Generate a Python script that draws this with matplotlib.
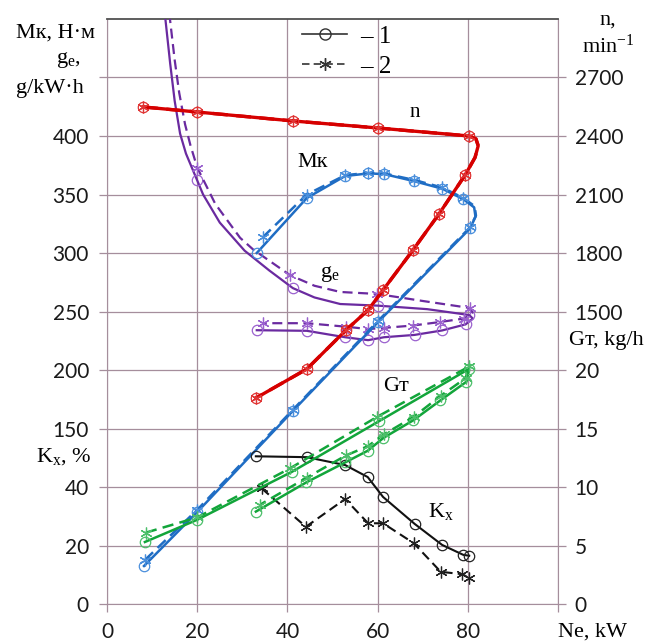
import matplotlib.pyplot as plt
from matplotlib.lines import Line2D

plt.rcParams['mathtext.fontset'] = 'custom'
plt.rcParams['mathtext.rm'] = 'Liberation Serif'
plt.rcParams['mathtext.it'] = 'Liberation Serif:italic'

# engine speed n, min^-1  (1 - solid, 2 - dashed)
n1_ne = [8.0, 20.0, 41.3, 60.1, 80.3, 81.8, 82.3, 81.6, 79.4, 73.6, 67.8, 61.2, 57.9, 53.0, 44.3, 33.0]
n1 = [2549, 2523, 2477, 2441, 2400, 2385, 2350, 2290, 2200, 2000, 1814, 1610, 1508, 1405, 1205, 1056]
n2_ne = n1_ne
n2 = n1
n_marks = [0, 1, 2, 3, 4, 8, 9, 10, 11, 12, 13, 14, 15]

# torque Mk, N*m
mk1_ne = [8.2, 20.0, 41.2, 60.1, 80.5, 81.7, 81.4, 79.0, 74.3, 68.0, 61.4, 57.9, 52.8, 44.3, 33.2]
mk1 = [32.5, 78.6, 165, 241, 321, 331, 339, 346, 355, 361.5, 367.5, 368, 365.8, 347, 300]
mk2_ne = [8.4, 20.0, 41.2, 60.1, 80.5, 81.8, 81.5, 79.0, 74.3, 68.0, 61.4, 57.9, 52.8, 44.3, 34.6]
mk2 = [37.6, 80.5, 166, 242, 322, 332, 340, 347, 356, 362.5, 368, 368.5, 366.5, 350, 313.7]
mk_marks = [0, 1, 2, 3, 4, 7, 8, 9, 10, 11, 12, 13, 14]

# specific fuel consumption ge, g/kW*h
ge1_ne = [12.8, 14.0, 15.0, 16.2, 17.5, 20.0, 21.3, 25.0, 30.5, 36.0, 41.2, 46.0, 51.7, 60.1, 71.0,
          80.3, 81.1, 79.5, 74.3, 68.2, 61.4, 57.9, 52.8, 44.3, 33.2]
ge1 = [505, 462, 430, 402, 385, 362, 350, 326, 302, 285, 270, 262, 256.4, 255, 252,
       247, 244, 239, 233.8, 230, 228, 225.5, 228, 233.5, 234]
ge1_marks = [5, 10, 13, 15, 17, 18, 19, 20, 21, 22, 23, 24]
ge2_ne = [13.8, 15.0, 16.0, 17.3, 18.5, 20.0, 24.0, 29.5, 32.4, 40.6, 46.0, 51.7, 59.9, 70.0,
          80.5, 81.0, 79.2, 73.8, 67.8, 61.4, 57.9, 53.0, 44.3, 34.6]
ge2 = [505, 465, 437, 410, 392, 373, 342, 313, 303, 281, 272, 266.7, 265, 259,
       253, 249, 244, 241, 238, 236, 235, 237, 240, 240]
ge2_marks = [5, 9, 12, 14, 16, 17, 18, 19, 20, 21, 22, 23]

# hourly fuel consumption Gт, kg/h
g1_ne = [8.4, 20.0, 41.0, 60.2, 80.3, 79.7, 73.9, 67.9, 61.3, 57.8, 52.8, 44.2, 33.0]
g1 = [5.3, 7.2, 11.3, 15.6, 20.1, 19.0, 17.4, 15.7, 14.2, 13.1, 12.1, 10.4, 7.9]
g2_ne = [8.6, 20.0, 40.6, 59.9, 80.3, 79.5, 74.0, 68.0, 61.4, 57.9, 53.0, 44.3, 34.0]
g2 = [6.1, 7.4, 11.6, 16.0, 20.3, 19.3, 17.8, 16.0, 14.5, 13.5, 12.7, 10.8, 8.5]

# Kx, %
kx1_ne = [33.0, 44.3, 52.8, 57.8, 61.2, 68.2, 74.3, 79.0, 80.3]
kx1 = [50.5, 50.2, 47.5, 43.4, 36.6, 27.4, 20.2, 16.8, 16.5]
kx2_ne = [34.3, 44.1, 52.8, 57.9, 61.2, 68.0, 74.0, 78.8, 80.3]
kx2 = [39.5, 26.4, 35.9, 27.6, 27.6, 20.8, 11.0, 10.2, 8.8]

left_ticks = ['0', '20', '40', '150', '200', '250', '300', '350', '400', '']
right_ticks = ['0', '5', '10', '15', '20', '1500', '1800', '2100', '2400', '2700']
x_ticks = ['0', '20', '40', '60', '80', '']

GRID = '#a58e9c'
SERIF = 'Liberation Serif'
STAR = (6, 2, 0)
DASH = (0, (4.5, 2.5))

fig = plt.figure(figsize=(6.51, 6.44), dpi=100)
ax = fig.add_axes([0.1644, 0.0621, 0.6928, 0.9084])
ax.set_xlim(0, 100)
ax.set_ylim(0, 500)
ax_k = ax.twinx()
ax_k.set_ylim(0, 200)
ax_g = ax.twinx()
ax_g.set_ylim(0, 50)
ax_n = ax.twinx()
ax_n.set_ylim(0, 3000)
for a in (ax_k, ax_g):
    a.set_yticks([])
    for s in a.spines.values():
        s.set_visible(False)
for s in ax_n.spines.values():
    s.set_visible(False)

ax.set_xticks(range(0, 101, 20), x_ticks)
ax.set_yticks(range(0, 451, 50), left_ticks)
ax_n.set_yticks(range(0, 2701, 300), right_ticks)
ax.grid(True, color=GRID, lw=0.9)
for a in (ax, ax_n):
    a.tick_params(colors=GRID, length=6, width=0.9, labelcolor='#1a1a1a',
                  labelsize=15, labelfontfamily='Lato')
ax.tick_params(axis='y', pad=7)
ax.tick_params(axis='x', pad=7)
ax_n.tick_params(axis='y', pad=6)
for side in ('left', 'right', 'bottom'):
    ax.spines[side].set_color(GRID)
ax.spines['top'].set_color('#505050')
ax.spines['top'].set_linewidth(1.3)


def pair(a, x1, y1, x2, y2, color, mcolor, lw, marks1=None, marks2=None, z=3):
    a.plot(x1, y1, color=color, lw=lw, marker='o', ms=7.5, mfc='none', mec=mcolor,
           mew=0.9, markevery=marks1, zorder=z)
    a.plot(x2, y2, color=color, lw=lw, ls=DASH, marker=STAR, ms=8.5, mec=mcolor,
           mew=0.9, markevery=marks2, zorder=z)


pair(ax_g, g1_ne, g1, g2_ne, g2, '#12a53a', '#4cbf6a', 1.8)
pair(ax_k, kx1_ne, kx1, kx2_ne, kx2, '#111111', '#222222', 1.5)
pair(ax, ge1_ne, ge1, ge2_ne, ge2, '#6a2aa0', '#9b62cf', 1.6, ge1_marks, ge2_marks)
pair(ax, mk1_ne, mk1, mk2_ne, mk2, '#1f6dc4', '#4a8fdc', 1.8, mk_marks, mk_marks)
pair(ax_n, n1_ne, n1, n2_ne, n2, '#d60000', '#e03535', 2.4, n_marks, n_marks)
for a in (ax_k, ax_g, ax_n):
    a.set_zorder(ax.get_zorder() + 1)
    a.patch.set_visible(False)

# curve labels
ax.text(68.3, 420, 'n', fontsize=15, family=SERIF, ha='center', va='center')
ax.text(45.5, 377, 'Mк', fontsize=16, family=SERIF, ha='center', va='center')
ax.text(49.4, 282, r'g$_\mathregular{e}$', fontsize=16, family=SERIF, ha='center', va='center')
ax.text(64.0, 186, 'Gт', fontsize=16, family=SERIF, ha='center', va='center')
ax.text(74.0, 79, r'K$_\mathregular{x}$', fontsize=16, family=SERIF, ha='center', va='center')

# axis titles
fig.text(55 / 651, 1 - 33 / 644, 'Mк, Н·м', fontsize=16, family=SERIF, ha='center', va='center')
fig.text(68 / 651, 1 - 60 / 644, r'g$_\mathregular{e}$,', fontsize=16, family=SERIF,
         ha='center', va='center')
fig.text(50 / 651, 1 - 88 / 644, 'g/kW·h', fontsize=16, family=SERIF, ha='center', va='center')
fig.text(64 / 651, 1 - 457 / 644, r'K$_\mathregular{x}$, %', fontsize=16, family=SERIF,
         ha='center', va='center')
fig.text(608 / 651, 1 - 20 / 644, 'n,', fontsize=16, family=SERIF, ha='center', va='center')
fig.text(608 / 651, 1 - 46 / 644, r'min$^{\mathregular{-1}}$', fontsize=16, family=SERIF,
         ha='center', va='center')
fig.text(606 / 651, 1 - 340 / 644, 'Gт, kg/h', fontsize=16, family=SERIF, ha='center',
         va='center')
fig.text(592 / 651, 1 - 632 / 644, 'Ne, kW', fontsize=16, family=SERIF, ha='center',
         va='center')

handles = [Line2D([], [], color='#333333', lw=1.2, marker='o', ms=8, mfc='none'),
           Line2D([], [], color='#333333', lw=1.2, ls=DASH, marker=STAR, ms=9)]
ax.legend(handles, ['– 1', '– 2'], loc='upper left', bbox_to_anchor=(0.43, 0.995),
          bbox_transform=fig.transFigure, frameon=False, handlelength=1.8,
          handletextpad=0.5, labelspacing=0.3, prop={'family': SERIF, 'size': 18})

fig.savefig('out.png', dpi=100)
